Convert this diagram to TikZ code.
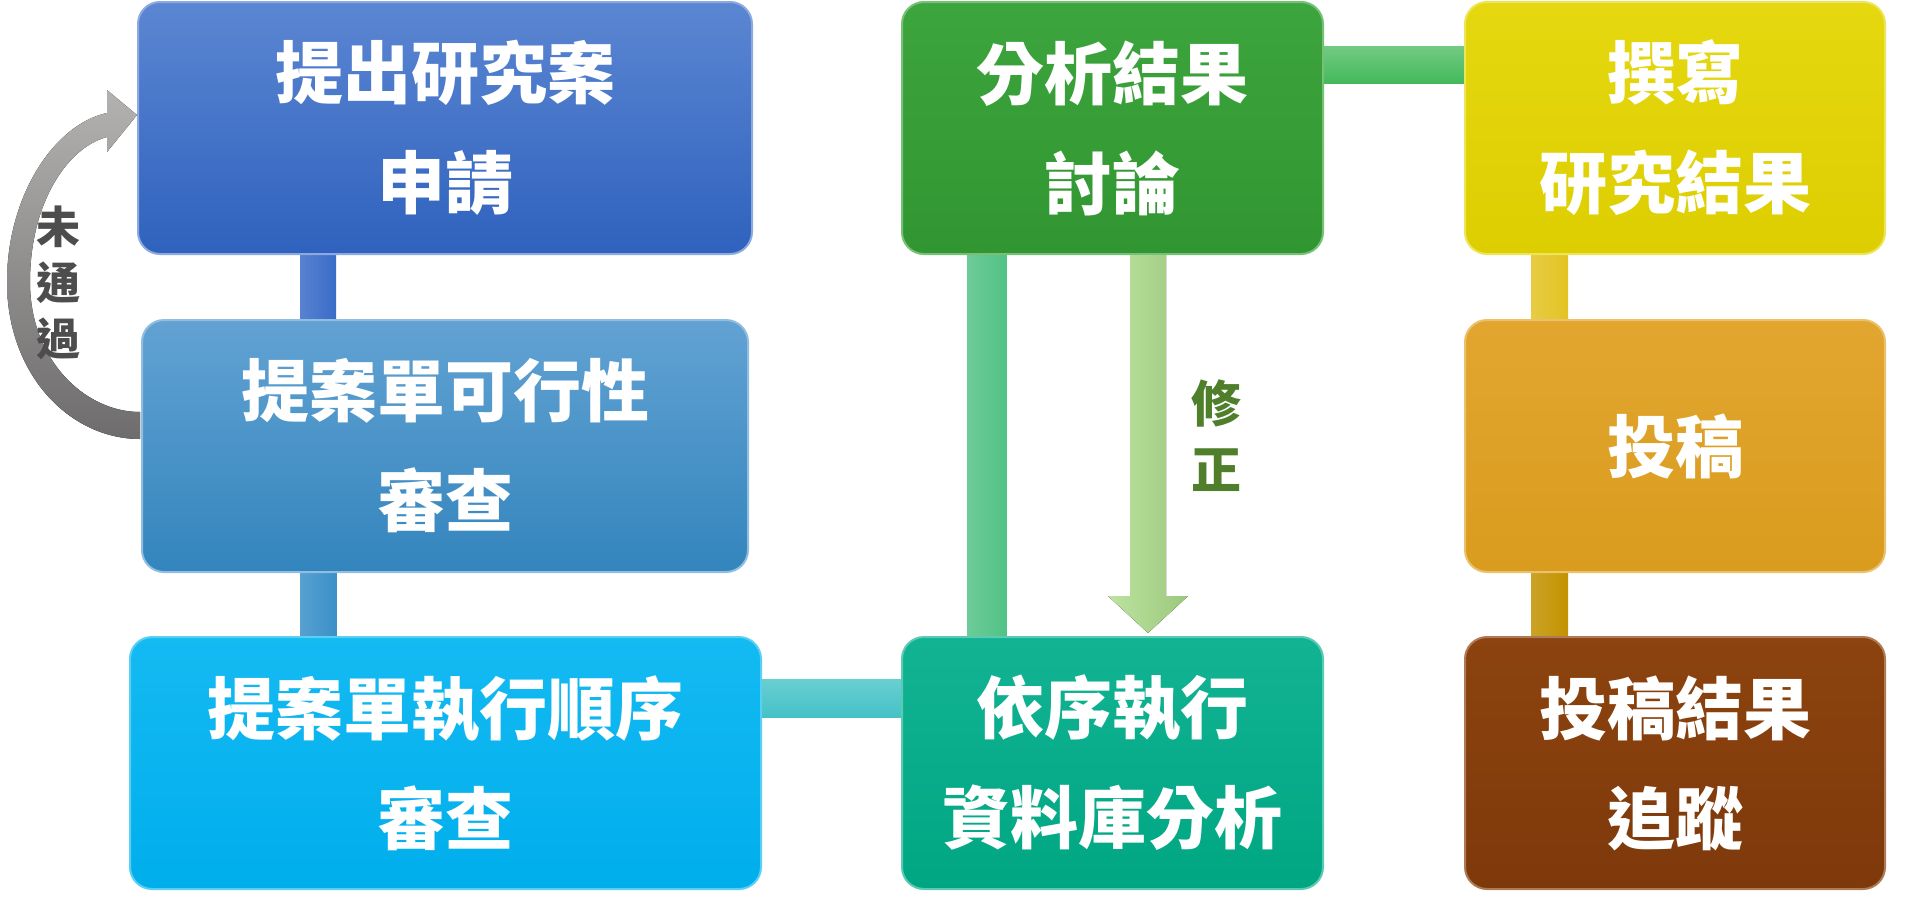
\documentclass[tikz,border=0pt]{standalone}
\usepackage{fontspec}
\newfontfamily\cjk{Noto Sans CJK TC}
\usetikzlibrary{calc}
\pgfdeclarelayer{background}
\pgfsetlayers{background,main}
\definecolor{bAt}{HTML}{5B86D2}\definecolor{bAb}{HTML}{2F62BE}
\definecolor{bBt}{HTML}{62A2D3}\definecolor{bBb}{HTML}{3385BD}
\definecolor{bCt}{HTML}{14BAF2}\definecolor{bCb}{HTML}{00AEEC}
\definecolor{bDt}{HTML}{3DA53D}\definecolor{bDb}{HTML}{319631}
\definecolor{bEt}{HTML}{12B393}\definecolor{bEb}{HTML}{00A682}
\definecolor{bFt}{HTML}{E6D810}\definecolor{bFb}{HTML}{DCCE00}
\definecolor{bGt}{HTML}{E2A630}\definecolor{bGb}{HTML}{DA9C1E}
\definecolor{bHt}{HTML}{8C430E}\definecolor{bHb}{HTML}{7E390B}
\definecolor{lnA}{HTML}{3A6CC8}\definecolor{lnB}{HTML}{3A90C8}
\definecolor{lnC}{HTML}{44C2C6}\definecolor{lnD}{HTML}{52C286}
\definecolor{lnE}{HTML}{44B95A}\definecolor{lnF}{HTML}{E3C322}
\definecolor{lnG}{HTML}{C29200}
\definecolor{revL}{HTML}{BCE3A0}\definecolor{revR}{HTML}{9CC87C}
\definecolor{fixgreen}{HTML}{4F7F2A}
\definecolor{nopass}{HTML}{4D4D4D}
\definecolor{grayT}{HTML}{B4B2B0}\definecolor{grayB}{HTML}{6E6C6C}
\begin{document}
\begin{tikzpicture}[x=1pt,y=-1pt,
  stepbox/.style={rounded corners=22pt, inner sep=0pt, align=center, text=white,
    font=\cjk\bfseries\fontsize{68}{110}\selectfont, line width=2pt,
    minimum height=252pt},
  sidelbl/.style={inner sep=0pt, align=center}
]
\useasboundingbox (0,0) rectangle (1909,905);

% boxes
\node[stepbox, minimum width=614pt, top color=bAt, bottom color=bAb, draw=bAt!70!white] (b1) at (445,128) {提出研究案\\申請};
\node[stepbox, minimum width=606pt, top color=bBt, bottom color=bBb, draw=bBt!70!white] (b2) at (445,446) {提案單可行性\\審查};
\node[stepbox, minimum width=631pt, top color=bCt, bottom color=bCb, draw=bCt!70!white] (b3) at (445.5,763) {提案單執行順序\\審查};
\node[stepbox, minimum width=421pt, top color=bDt, bottom color=bDb, draw=bDt!70!white] (b4) at (1112.5,128) {分析結果\\討論};
\node[stepbox, minimum width=421pt, top color=bEt, bottom color=bEb, draw=bEt!70!white] (b5) at (1112.5,763) {依序執行\\資料庫分析};
\node[stepbox, minimum width=420pt, top color=bFt, bottom color=bFb, draw=bFt!70!white] (b6) at (1675,128) {撰寫\\研究結果};
\node[stepbox, minimum width=420pt, top color=bGt, bottom color=bGb, draw=bGt!70!white] (b7) at (1675,446) {投稿};
\node[stepbox, minimum width=420pt, top color=bHt, bottom color=bHb, draw=bHt!70!white] (b8) at (1675,763) {投稿結果\\追蹤};

% connector bars behind boxes
\begin{pgfonlayer}{background}
\fill[left color=lnA!85!white, right color=lnA] ([xshift=-145pt,yshift=4pt]b1.south) rectangle ([xshift=-109pt,yshift=-4pt]b2.north);
\fill[left color=lnB!85!white, right color=lnB] ([xshift=-145pt,yshift=4pt]b2.south) rectangle ([xshift=-109pt,yshift=-4pt]b3.north);
\fill[top color=lnC!80!white, bottom color=lnC] ([xshift=-4pt,yshift=84pt]b3.east) rectangle ([xshift=4pt,yshift=46pt]b5.west);
\fill[left color=lnD!85!white, right color=lnD] ([xshift=-145pt,yshift=4pt]b4.south) rectangle ([xshift=-106pt,yshift=-4pt]b5.north);
\fill[top color=lnE!75!white, bottom color=lnE] ([xshift=-4pt,yshift=82pt]b4.east) rectangle ([xshift=4pt,yshift=45pt]b6.west);
\fill[left color=lnF!85!white, right color=lnF] ([xshift=-144pt,yshift=4pt]b6.south) rectangle ([xshift=-107pt,yshift=-4pt]b7.north);
\fill[left color=lnG!85!white, right color=lnG] ([xshift=-144pt,yshift=4pt]b7.south) rectangle ([xshift=-107pt,yshift=-4pt]b8.north);
\end{pgfonlayer}

% revise arrow from b4 to b5
\fill[left color=revL, right color=revR]
  ([xshift=17.5pt]b4.south) -- ([xshift=53.5pt]b4.south)
  -- ([xshift=53.5pt,yshift=40pt]b5.north) -- ([xshift=75.5pt,yshift=40pt]b5.north)
  -- ([xshift=35.5pt,yshift=3pt]b5.north) -- ([xshift=-4.5pt,yshift=40pt]b5.north)
  -- ([xshift=17.5pt,yshift=40pt]b5.north) -- cycle;
\node[sidelbl, text=fixgreen, font=\cjk\bfseries\fontsize{50}{66}\selectfont] (lblfix) at (1216,436) {修\\正};

% not-passed curved arrow from b2 back to b1
\coordinate (g0) at ($(b2.west)+(-1,-7)$);
\coordinate (g1) at ($(b2.west)+(-1,-34)$);
\fill[top color=grayT, bottom color=grayB]
  (g0) .. controls (70,439) and (7,375) .. (7,282)
  .. controls (7,195) and (55,124) .. (107,113)
  -- (107,90) -- ($(b1.west)+(0,-13)$) -- (107,152) -- (107,137)
  .. controls (66,148) and (30,205) .. (30,282)
  .. controls (30,360) and (85,412) .. (g1) -- cycle;
\node[sidelbl, text=nopass, font=\cjk\bfseries\fontsize{44}{56}\selectfont] (lblno) at (58,283) {未\\通\\過};
\end{tikzpicture}
\end{document}
